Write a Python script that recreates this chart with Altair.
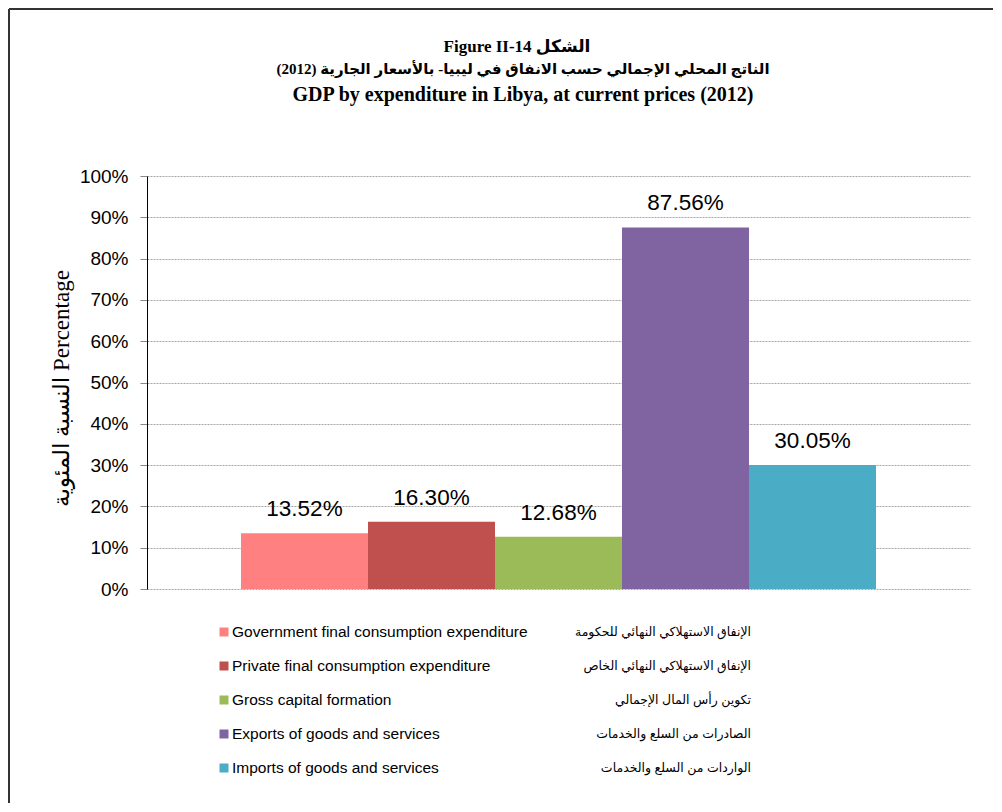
import altair as alt
import pandas as pd

categories_en = [
    "Government final consumption expenditure",
    "Private final consumption expenditure",
    "Gross capital formation",
    "Exports of goods and services",
    "Imports of goods and services",
]
categories_ar = [
    "الإنفاق الاستهلاكي النهائي للحكومة",
    "الإنفاق الاستهلاكي النهائي الخاص",
    "تكوين رأس المال الإجمالي",
    "الصادرات من السلع والخدمات",
    "الواردات من السلع والخدمات",
]
values_pct = [13.52, 16.30, 12.68, 87.56, 30.05]
colors = ["#FF8080", "#C0504D", "#9BBB59", "#8064A2", "#4BACC6"]
y_ticks = [0, 0.1, 0.2, 0.3, 0.4, 0.5, 0.6, 0.7, 0.8, 0.9, 1.0]

title_line1 = "Figure II-14 الشكل"
title_line2 = "الناتج المحلي الإجمالي حسب الانفاق في ليبيا- بالأسعار الجارية (2012)\u200f"
title_line3 = "GDP by expenditure in Libya, at current prices (2012)"
y_title = "النسبة المئوية Percentage"

df = pd.DataFrame({
    "category": categories_en,
    "arabic": categories_ar,
    "value": [v / 100 for v in values_pct],
    "label": [f"{v:.2f}%" for v in values_pct],
})
titles = pd.DataFrame({"t1": [title_line1], "t2": [title_line2], "t3": [title_line3]})

SANS = "Liberation Sans, Arial, DejaVu Sans"
SERIF = "Liberation Serif, Times New Roman, DejaVu Sans"

color_enc = alt.Color(
    "category:N",
    scale=alt.Scale(domain=categories_en, range=colors),
    legend=None,
)
x_enc = alt.X(
    "category:N",
    sort=categories_en,
    scale=alt.Scale(paddingInner=0, paddingOuter=0.74),
    axis=None,
)
y_enc = alt.Y(
    "value:Q",
    scale=alt.Scale(domain=[0, 1], nice=False),
    title=y_title,
    axis=alt.Axis(
        values=y_ticks,
        format=".0%",
        labelFont=SANS,
        labelFontSize=19,
        labelColor="black",
        labelPadding=12,
        tickColor="#888888",
        tickSize=7,
        domainColor="black",
        domainWidth=1,
        gridColor="#A6A6A6",
        gridDash=[2, 1],
        gridWidth=1,
        titleFont=SERIF,
        titleFontSize=23,
        titleFontWeight="normal",
        titleColor="black",
        titlePadding=6,
        titleY=212,
    ),
)

base = alt.Chart(df)
bars = base.mark_bar().encode(x=x_enc, y=y_enc, color=color_enc)
labels = base.mark_text(
    font=SANS, fontSize=22.5, baseline="alphabetic", dy=-17, color="black"
).encode(x=x_enc, y=alt.Y("value:Q"), text="label:N")

tbase = alt.Chart(titles)
t1 = tbase.mark_text(
    font=SERIF, fontSize=17, fontWeight="bold", baseline="middle", align="center", color="black"
).encode(x=alt.value(370), y=alt.value(-129), text="t1:N")
t2 = tbase.mark_text(
    font=SERIF, fontSize=15, fontWeight="bold", baseline="middle", align="center", color="black"
).encode(x=alt.value(376), y=alt.value(-107), text="t2:N")
t3 = tbase.mark_text(
    font=SERIF, fontSize=20, fontWeight="bold", baseline="middle", align="center", color="black"
).encode(x=alt.value(376), y=alt.value(-81), text="t3:N")

main = alt.layer(bars, labels, t1, t2, t3).properties(width=823, height=413)

border = alt.Chart(alt.Data(values=[{"b": 1}]))
top_rule = border.mark_rule(color="#333333", strokeWidth=2).encode(
    x=alt.value(-138), x2=alt.value(846), y=alt.value(-606)
)
left_rule = border.mark_rule(color="#333333", strokeWidth=2).encode(
    x=alt.value(-138), y=alt.value(-606), y2=alt.value(188)
)

leg_y = alt.Y("category:N", sort=categories_en, axis=None)
leg_base = alt.Chart(df)
leg_sq = leg_base.mark_square(size=81, opacity=1).encode(
    x=alt.value(77), y=leg_y, color=color_enc
)
leg_en = leg_base.mark_text(
    font=SANS, fontSize=15.5, align="left", baseline="middle", color="black"
).encode(x=alt.value(85), y=leg_y, text="category:N")
leg_ar = leg_base.mark_text(
    font=SANS, fontSize=12.5, align="right", baseline="middle", color="black"
).encode(x=alt.value(604), y=leg_y, text="arabic:N")
legend = alt.layer(leg_sq, leg_en, leg_ar, top_rule, left_rule).properties(width=823, height=170)

chart = alt.vconcat(main, legend, spacing=26, bounds="flush").properties(
    padding=0, background="white"
).configure_view(stroke=None)

chart.save("out.html", embed_options={"renderer": "svg", "actions": False})
